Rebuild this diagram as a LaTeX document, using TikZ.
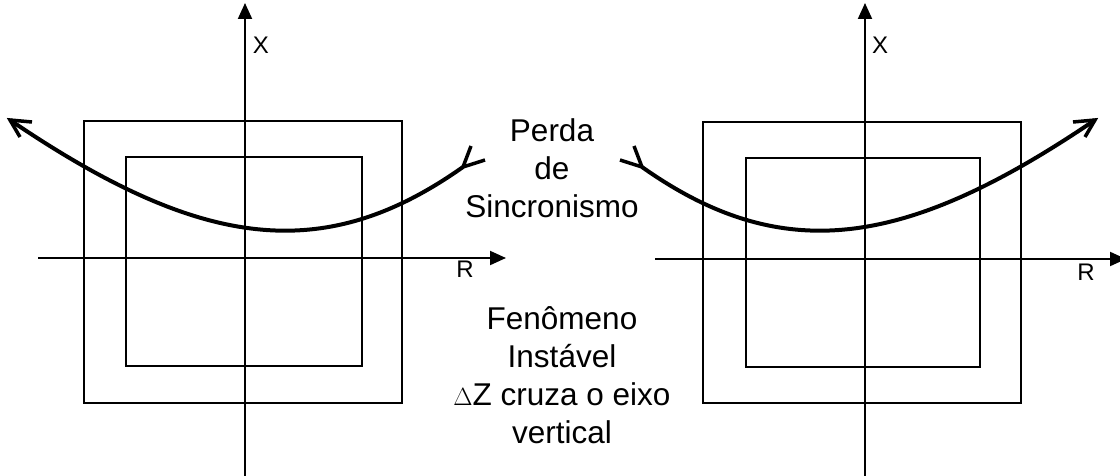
\documentclass[tikz,border=0pt]{standalone}
\usepackage{fontspec}
\setmainfont{Liberation Sans}
\usetikzlibrary{arrows.meta}
\begin{document}
\begin{tikzpicture}[x=1pt,y=-1pt,
  axis/.style={line width=2pt,-{Triangle[length=16pt,width=14pt]}},
  frame/.style={line width=2pt},
  locus/.style={line width=4pt},
  barb/.style={line width=3.5pt, line join=miter},
  axislabel/.style={font=\fontsize{24}{28}\selectfont, inner sep=0pt},
  caption/.style={font=\fontsize{31.5}{38}\selectfont, align=center, inner sep=0pt}]
\useasboundingbox (0,0) rectangle (1120,476);

% ---------- left plane ----------
\draw[frame] (84,121) rectangle (402,403);
\draw[frame] (126,157) rectangle (362,366);
\coordinate (lxs) at (245,476);
\coordinate (lxe) at (245,3);
\coordinate (lrs) at (38,258);
\coordinate (lre) at (506,258);
\draw[axis] (lxs) -- (lxe);
\draw[axis] (lrs) -- (lre);
\node[axislabel, anchor=base] (lx) at (261,54) {X};
\node[axislabel, anchor=base] (lr) at (465,277) {R};
% impedance locus leaving the characteristic
\draw[locus] (463,167) coordinate (lcs)
  .. controls (323,266) and (200,249) .. (10,120) coordinate (lce);
\draw[barb] ([shift={(22,2)}]lce) -- (lce) -- ([shift={(10,17)}]lce);
\draw[barb] ([shift={(8,-21)}]lcs) -- (lcs) -- ([shift={(22,-7)}]lcs);

% ---------- right plane ----------
\draw[frame] (703,122) rectangle (1021,403);
\draw[frame] (746,158) rectangle (980,367);
\coordinate (rxs) at (865,476);
\coordinate (rxe) at (865,3);
\coordinate (rrs) at (655,259);
\coordinate (rre) at (1126,259);
\draw[axis] (rxs) -- (rxe);
\draw[axis] (rrs) -- (rre);
\node[axislabel, anchor=base] (rx) at (880,54) {X};
\node[axislabel, anchor=base] (rr) at (1086,280) {R};
\draw[locus] (642,167) coordinate (rcs)
  .. controls (782,266) and (905,249) .. (1095,120) coordinate (rce);
\draw[barb] ([shift={(-22,2)}]rce) -- (rce) -- ([shift={(-10,17)}]rce);
\draw[barb] ([shift={(-8,-21)}]rcs) -- (rcs) -- ([shift={(-22,-7)}]rcs);

% ---------- captions ----------
\node[caption] (loss) at (552,168) {Perda\\de\\Sincronismo};
\node[caption] (unstable) at (562,375) {Fenômeno\\Instável\\$\Delta$Z cruza o eixo\\vertical};
\end{tikzpicture}
\end{document}
